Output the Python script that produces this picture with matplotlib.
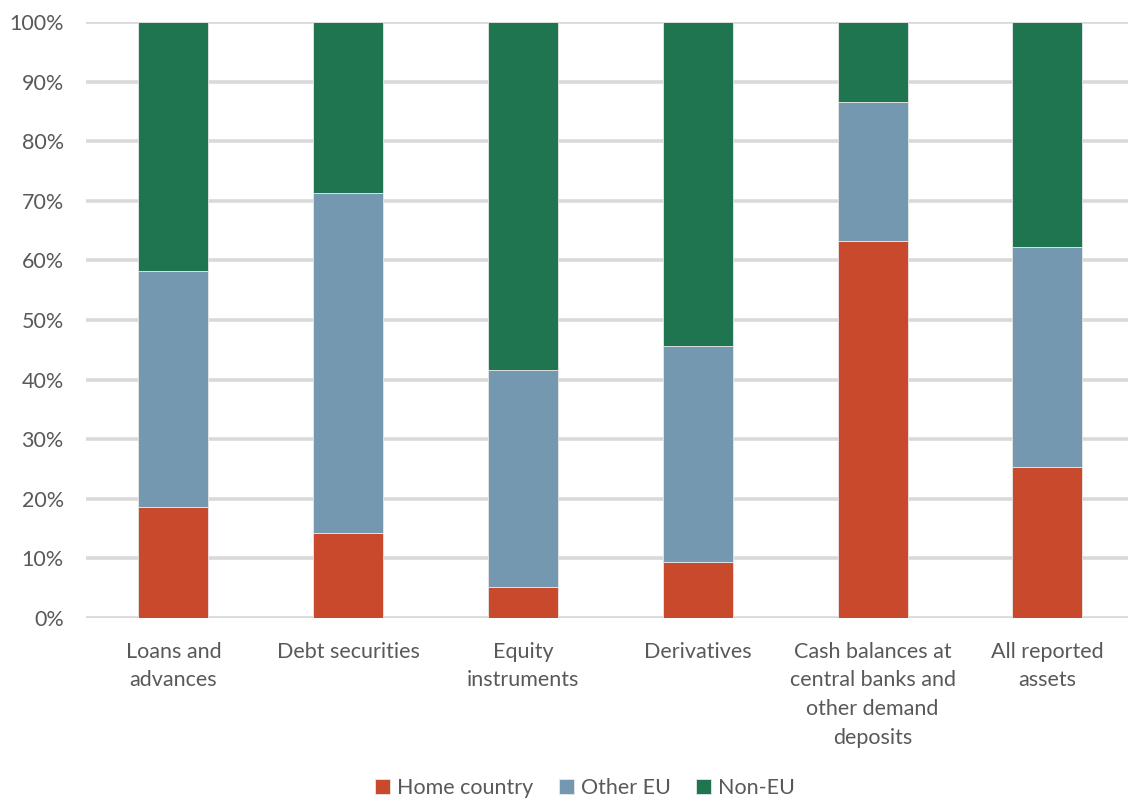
import matplotlib.pyplot as plt
import numpy as np
from matplotlib.ticker import PercentFormatter

categories = ["Loans and\nadvances", "Debt securities", "Equity\ninstruments", "Derivatives",
              "Cash balances at\ncentral banks and\nother demand\ndeposits", "All reported\nassets"]
home_country = [18.6, 14.3, 5.2, 9.4, 63.3, 25.3]
other_eu = [39.6, 57.0, 36.4, 36.2, 23.3, 36.9]
non_eu = [41.8, 28.7, 58.4, 54.4, 13.4, 37.8]

series = [("Home country", home_country, "#C9492D"),
          ("Other EU", other_eu, "#7398AF"),
          ("Non-EU", non_eu, "#1F7550")]

plt.rcParams['font.family'] = ['Lato', 'DejaVu Sans']
text_color = "#595959"
fs = 15.5

fig = plt.figure(figsize=(11.28, 8), dpi=100)
ax = fig.add_axes([86 / 1128, 1 - 618 / 800, 6 * 174.8 / 1128, 596 / 800])

x = np.arange(len(categories))
bottom = np.zeros(len(categories))
for name, vals, color in series:
    vals = np.array(vals)
    ax.bar(x, vals, width=0.4, bottom=bottom, color=color, edgecolor="#e8e8e8",
           linewidth=0.6, label=name, zorder=3)
    bottom += vals

ax.set_xlim(-0.5, 5.5)
ax.set_ylim(0, 100)
ax.set_yticks(np.arange(0, 101, 10))
ax.yaxis.set_major_formatter(PercentFormatter(decimals=0))
ax.grid(axis="y", color="#D9D9D9", linewidth=2.6, zorder=0)
ax.set_xticks(x)
ax.set_xticklabels(categories, fontsize=fs, color=text_color, linespacing=1.55)
ax.tick_params(axis="y", labelsize=fs, labelcolor=text_color, length=0, pad=16)
ax.tick_params(axis="x", length=0, pad=17)
for s in ax.spines.values():
    s.set_visible(False)

fig.legend(loc="center", bbox_to_anchor=(585 / 1128, 1 - 788 / 800), ncol=3, frameon=False,
           fontsize=fs, labelcolor=text_color, handlelength=0.7, handleheight=0.7,
           handletextpad=0.3, columnspacing=1.2)

fig.savefig("out.png", dpi=100)
